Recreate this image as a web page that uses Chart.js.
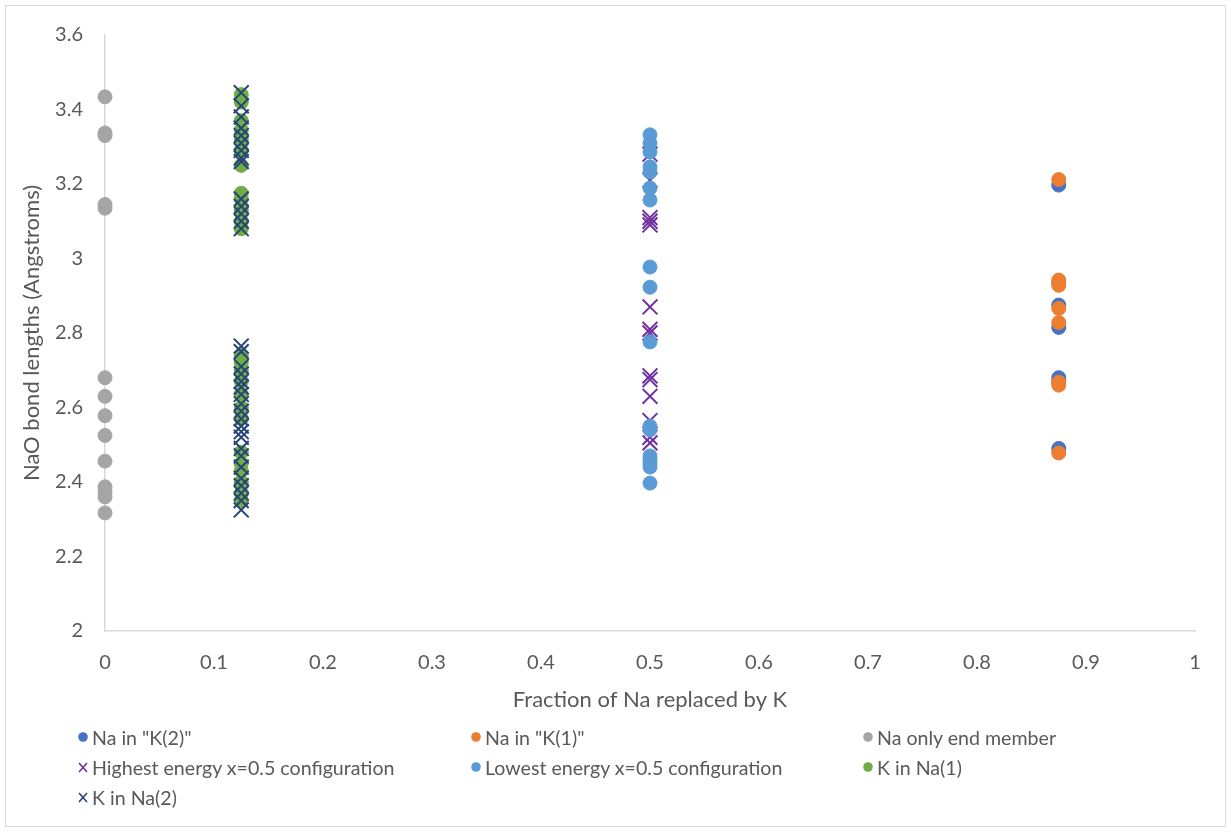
<!DOCTYPE html>
<html>
<head>
<meta charset="utf-8">
<script src="https://cdn.jsdelivr.net/npm/chart.js@4/dist/chart.umd.min.js"></script>
<style>
  html, body { margin: 0; padding: 0; background: #fff; }
  #wrap { position: relative; width: 1231px; height: 832px; font-family: Lato, "Noto Sans", sans-serif; }
  #frame { position: absolute; left: 5px; top: 5px; width: 1219px; height: 820px; border: 1px solid #D9D9D9; }
  #chart { position: absolute; left: 0; top: 0; }
  #legend { position: absolute; left: 77px; top: 726px; width: 1150px;
            display: grid; grid-template-columns: 393px 392px 340px; row-gap: 8px;
            font-size: 19.6px; color: #595959; }
  .item { display: flex; align-items: center; height: 22px; white-space: nowrap; }
  .item svg { margin-right: 3px; flex: none; }
</style>
</head>
<body>
<div id="wrap">
  <div id="frame"></div>
  <canvas id="chart" width="1231" height="832"></canvas>
  <div id="legend"></div>
</div>
<script>
// Fraction of Na replaced by K for each structure
const xEndMember = 0;
const xKinNa = 0.125;
const xHalf = 0.5;
const xNaInK = 0.875;

// Na–O bond lengths (Å)
const naInK2 = [3.197, 2.935, 2.875, 2.815, 2.68, 2.67, 2.49];
const naInK1 = [3.212, 2.942, 2.928, 2.866, 2.828, 2.668, 2.66, 2.478];
const naOnlyEndMember = [3.434, 3.337, 3.33, 3.145, 3.135, 2.68, 2.63, 2.578, 2.525, 2.456, 2.387, 2.375, 2.36, 2.317];
const highestEnergyHalf = [3.28, 3.21, 3.11, 3.10, 3.09, 2.87, 2.81, 2.80, 2.685, 2.675, 2.63, 2.565, 2.52, 2.505];
const lowestEnergyHalf = [3.332, 3.31, 3.286, 3.246, 3.232, 3.189, 3.157, 2.977, 2.923, 2.776, 2.55, 2.54, 2.47, 2.46, 2.45, 2.44, 2.397];
const kInNa1 = [3.44, 3.42, 3.37, 3.345, 3.32, 3.29, 3.25, 3.175, 3.16, 3.13, 3.10, 3.08,
                2.74, 2.72, 2.70, 2.67, 2.635, 2.60, 2.57, 2.48, 2.45, 2.43, 2.40, 2.37, 2.35];
const kInNa2 = [3.445, 3.41, 3.38, 3.35, 3.33, 3.31, 3.29, 3.27, 3.26, 3.16, 3.14, 3.12, 3.10, 3.08,
                2.765, 2.75, 2.71, 2.69, 2.67, 2.655, 2.635, 2.61, 2.59, 2.57, 2.55, 2.535, 2.52, 2.49, 2.47, 2.44, 2.41, 2.39, 2.37, 2.35, 2.325];

const seriesNames = ['Na in "K(2)"', 'Na in "K(1)"', 'Na only end member',
  'Highest energy x=0.5 configuration', 'Lowest energy x=0.5 configuration', 'K in Na(1)', 'K in Na(2)'];
const seriesColors = ['#4472C4', '#ED7D31', '#A5A5A5', '#7030A0', '#5B9BD5', '#70AD47', '#264478'];
const seriesMarkers = ['circle', 'circle', 'circle', 'crossRot', 'circle', 'circle', 'crossRot'];

const xTickLabels = ['0', '0.1', '0.2', '0.3', '0.4', '0.5', '0.6', '0.7', '0.8', '0.9', '1'];
const yTickLabels = ['2', '2.2', '2.4', '2.6', '2.8', '3', '3.2', '3.4', '3.6'];

const seriesX = [xNaInK, xNaInK, xEndMember, xHalf, xHalf, xKinNa, xKinNa];
const seriesY = [naInK2, naInK1, naOnlyEndMember, highestEnergyHalf, lowestEnergyHalf, kInNa1, kInNa2];

const datasets = seriesNames.map((name, i) => {
  const isCross = seriesMarkers[i] === 'crossRot';
  return {
    label: name,
    data: seriesY[i].map(v => ({ x: seriesX[i], y: v })),
    pointStyle: seriesMarkers[i],
    pointRadius: isCross ? 10.5 : 7,
    pointBorderWidth: isCross ? 2 : 1,
    borderColor: seriesColors[i],
    backgroundColor: seriesColors[i],
    pointHoverRadius: isCross ? 10.5 : 7,
    showLine: false,
    clip: false,
    order: seriesNames.length - i   // later series drawn on top
  };
});

const axisColor = '#D9D9D9';
const textColor = '#595959';
const fontFamily = 'Lato, "Noto Sans", sans-serif';
const tickFont = { family: fontFamily, size: 20 };
const titleFont = { family: fontFamily, size: 22 };

new Chart(document.getElementById('chart'), {
  type: 'scatter',
  data: { datasets },
  options: {
    responsive: false,
    animation: false,
    events: [],
    layout: { padding: { left: 0, right: 36, top: 35, bottom: 111 } },
    plugins: { legend: { display: false }, tooltip: { enabled: false } },
    scales: {
      x: {
        type: 'linear', min: 0, max: 1,
        afterFit: s => { s.height = 90; },
        afterBuildTicks: s => { s.ticks = xTickLabels.map(t => ({ value: parseFloat(t) })); },
        ticks: {
          callback: (v) => xTickLabels.find(t => Math.abs(parseFloat(t) - v) < 1e-9),
          color: textColor, font: tickFont, padding: 20, maxRotation: 0, autoSkip: false
        },
        grid: { display: false, drawTicks: false },
        border: { display: true, color: axisColor, width: 1.5 },
        title: { display: true, text: 'Fraction of Na replaced by K', color: textColor,
                 font: titleFont, padding: { top: 0, bottom: 8 } }
      },
      y: {
        type: 'linear', min: 2, max: 3.6,
        afterFit: s => { s.width = 105; },
        afterBuildTicks: s => { s.ticks = yTickLabels.map(t => ({ value: parseFloat(t) })); },
        ticks: {
          callback: (v) => yTickLabels.find(t => Math.abs(parseFloat(t) - v) < 1e-9),
          color: textColor, font: tickFont, padding: 22, autoSkip: false
        },
        grid: { display: false, drawTicks: false },
        border: { display: true, color: axisColor, width: 1.5 },
        title: { display: true, text: 'NaO bond lengths (Angstroms)', color: textColor,
                 font: titleFont, padding: { top: 19, bottom: 0 } }
      }
    }
  }
});

// Legend in three columns, Excel style
const legend = document.getElementById('legend');
seriesNames.forEach((name, i) => {
  const item = document.createElement('div');
  item.className = 'item';
  const c = seriesColors[i];
  const marker = seriesMarkers[i] === 'circle'
    ? `<svg width="12" height="12"><circle cx="6" cy="6" r="4.8" fill="${c}"/></svg>`
    : `<svg width="12" height="12"><path d="M2 2 L10 11 M10 2 L2 11" stroke="${c}" stroke-width="1.6"/></svg>`;
  item.innerHTML = marker + '<span></span>';
  item.querySelector('span').textContent = name;
  legend.appendChild(item);
});
</script>
</body>
</html>
